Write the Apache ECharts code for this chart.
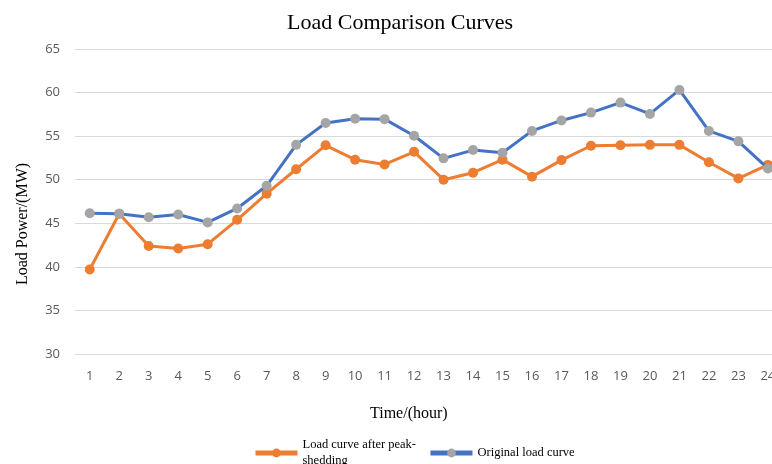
<!DOCTYPE html>
<html>
<head>
<meta charset="utf-8">
<script src="https://cdn.jsdelivr.net/npm/echarts@6/dist/echarts.min.js"></script>
<style>
  html, body { margin: 0; padding: 0; background: #fff; }
  #chart { width: 772px; height: 464px; }
</style>
</head>
<body>
<div id="chart"></div>
<script>
// Hourly load (MW) over one day
const hours = [1, 2, 3, 4, 5, 6, 7, 8, 9, 10, 11, 12, 13, 14, 15, 16, 17, 18, 19, 20, 21, 22, 23, 24];
const afterPeakShedding = [39.7, 46.1, 42.4, 42.1, 42.6, 45.4, 48.4, 51.2, 53.95, 52.3, 51.75, 53.2, 50.0, 50.8, 52.3, 50.35, 52.25, 53.9, 53.95, 54.0, 54.0, 52.0, 50.15, 51.7];
const originalLoad = [46.15, 46.1, 45.7, 46.0, 45.1, 46.7, 49.3, 54.0, 56.5, 57.0, 56.95, 55.05, 52.45, 53.4, 53.1, 55.6, 56.8, 57.7, 58.85, 57.55, 60.3, 55.6, 54.4, 51.3];
const yTicks = { min: 30, max: 65, step: 5 };

const serif = '"Liberation Serif", "Times New Roman", serif';
const sans = '"Open Sans", "Noto Sans", sans-serif';

// pair each hour with its load value
const pairs = (values) => hours.map((h, i) => [h, values[i]]);

const chart = echarts.init(document.getElementById('chart'), null, { renderer: 'canvas' });
chart.setOption({
  animation: false,
  backgroundColor: '#ffffff',
  title: [
    {
      text: 'Load Comparison Curves',
      left: 282, top: 7,
      textStyle: { fontFamily: serif, fontSize: 22, fontWeight: 'normal', color: '#000' }
    },
    {
      text: 'Time/(hour)',
      left: 365, top: 401,
      textStyle: { fontFamily: serif, fontSize: 16, fontWeight: 'normal', color: '#000' }
    }
  ],
  // vertical axis title, drawn as rotated text beside the plot
  graphic: [
    {
      type: 'text',
      x: 23, y: 224,
      rotation: Math.PI / 2,
      style: {
        text: 'Load Power/(MW)',
        font: '16px ' + serif,
        fill: '#000',
        align: 'center',
        verticalAlign: 'middle'
      }
    }
  ],
  grid: { left: 75, right: 0, top: 49, bottom: 110, containLabel: false, outerBoundsMode: 'none' },
  legend: {
    top: 432, left: 248,
    itemWidth: 42, itemHeight: 11, itemGap: 12,
    lineStyle: { width: 5 },
    textStyle: { fontFamily: serif, fontSize: 12.5, color: '#000', lineHeight: 16 },
    data: ['Load curve after peak-\nshedding', 'Original load curve']
  },
  xAxis: {
    type: 'value',
    // half-hour margin on the left; the last hour sits near the right edge
    min: 0.5, max: 24.14,
    splitLine: { show: false },
    axisLine: { show: false },
    axisTick: { show: false },
    axisLabel: {
      fontFamily: sans, fontSize: 13, color: '#595959', margin: 16,
      customValues: hours
    }
  },
  yAxis: {
    type: 'value',
    min: yTicks.min, max: yTicks.max, interval: yTicks.step,
    axisLine: { show: false },
    axisTick: { show: false },
    axisLabel: { fontFamily: sans, fontSize: 13, color: '#595959', margin: 15 },
    splitLine: { lineStyle: { color: '#d9d9d9', width: 1 } }
  },
  series: [
    {
      name: 'Load curve after peak-\nshedding',
      type: 'line',
      data: pairs(afterPeakShedding),
      symbol: 'circle', symbolSize: 10,
      lineStyle: { color: '#ED7D31', width: 3 },
      itemStyle: { color: '#ED7D31' },
      clip: false,
      z: 2
    },
    {
      name: 'Original load curve',
      type: 'line',
      data: pairs(originalLoad),
      symbol: 'circle', symbolSize: 10,
      lineStyle: { color: '#4472C4', width: 3 },
      itemStyle: { color: '#A5A5A5' },
      clip: false,
      z: 3
    }
  ]
});
</script>
</body>
</html>
